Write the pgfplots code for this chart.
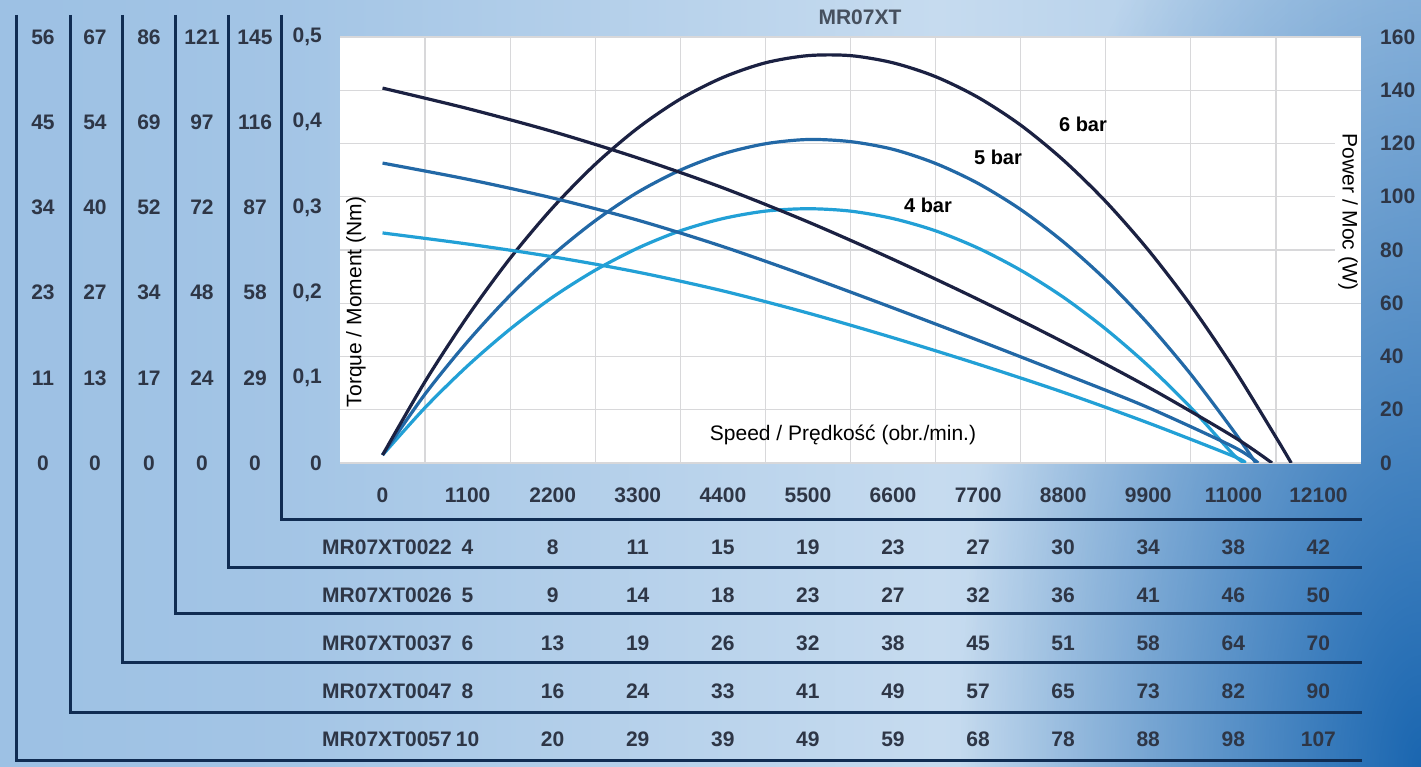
\documentclass[border=0pt]{standalone}
\usepackage{pgfplots}
\pgfplotsset{compat=1.18}
\usepackage{fontspec}
\setmainfont{Liberation Sans}
\usetikzlibrary{fadings}
\definecolor{navy}{HTML}{1B2142}
\definecolor{midblue}{HTML}{2268A6}
\definecolor{cyanb}{HTML}{22A0D6}
\definecolor{tabline}{HTML}{102C52}
\definecolor{tabtxt}{HTML}{2E3646}
\definecolor{titletxt}{HTML}{46505E}
\definecolor{gridc}{HTML}{D8D8DA}
\definecolor{bgA}{HTML}{8CB6DF}
\definecolor{bgB}{HTML}{C6DBEF}
\definecolor{bgD}{HTML}{1A66B0}
\pgfdeclarehorizontalshading{bgshade}{100bp}{color(0bp)=(bgA); color(35bp)=(bgA!60!bgB); color(58bp)=(bgB); color(80bp)=(bgA!70!bgB); color(100bp)=(bgA!40!bgB)}
\tikzfading[name=radfade, inner color=transparent!0, outer color=transparent!100]
\newcommand{\tlf}{\fontsize{21}{24}\selectfont\bfseries}
\newcommand{\lbf}{\fontsize{21}{24}\selectfont}
\pgfplotsset{base/.style={at={(340pt,304pt)}, anchor=south west, scale only axis,
  width=1021pt, height=426pt, xmin=-550, xmax=12650, scaled ticks=false,
  axis line style={draw=none}, major tick length=0pt, minor tick length=0pt,
  tick label style={font=\tlf, text=tabtxt}}}
\begin{document}
\begin{tikzpicture}
\begin{scope}[x=1pt,y=1pt]
\useasboundingbox (0,0) rectangle (1421,767);
\shade[shading=bgshade] (0,0) rectangle (1421,767);
\begin{scope}
\clip (0,0) rectangle (1421,767);
\fill[bgD, path fading=radfade, fit fading=true] (961,-1000) rectangle (1881,1000);
\end{scope}
\end{scope}

% power axis (background, grid, right ticks, x ticks)
\begin{axis}[base, ymin=0, ymax=160,
  axis background/.style={fill=white},
  xtick={0,1100,2200,3300,4400,5500,6600,7700,8800,9900,11000,12100},
  xticklabels={0,1100,2200,3300,4400,5500,6600,7700,8800,9900,11000,12100},
  minor xtick={550,1650,2750,3850,4950,6050,7150,8250,9350,10450,11550},
  xminorgrids=true, ymajorgrids=true,
  grid style={gridc, line width=1.3pt}, minor grid style={gridc, line width=1.3pt},
  ytick={0,20,40,60,80,100,120,140,160},
  yticklabels={0,20,40,60,80,100,120,140,160},
  yticklabel pos=right,
  xticklabel style={anchor=center, inner sep=0pt, yshift=-32pt},
  yticklabel style={anchor=west, inner sep=0pt, xshift=19pt}]
\addplot[cyanb, line width=3.2pt, smooth] coordinates {(0,3) (550,20.8) (1100,36.5) (1650,50.3) (2200,62.3) (2750,72.4) (3300,80.7) (3850,87.2) (4400,91.8) (4950,94.6) (5500,95.5) (6050,94.6) (6600,91.8) (7150,87.2) (7700,80.7) (8250,72.4) (8800,62.3) (9350,50.3) (9900,36.5) (10450,20.8) (11000,3.2) (11154,0)};
\addplot[midblue, line width=3.2pt, smooth] coordinates {(0,3) (550,25.9) (1100,45.6) (1650,63.0) (2200,78.1) (2750,91.0) (3300,101.7) (3850,110.0) (4400,116.1) (4950,119.9) (5500,121.5) (6050,120.7) (6600,117.8) (7150,112.5) (7700,105.0) (8250,95.2) (8800,83.1) (9350,68.8) (9900,52.2) (10450,33.3) (11000,12.1) (11290,0)};
\addplot[navy, line width=3.2pt, smooth] coordinates {(0,3) (550,30.6) (1100,55.1) (1650,76.9) (2200,95.9) (2750,112.2) (3300,125.8) (3850,136.7) (4400,144.8) (4950,150.3) (5500,153.0) (6050,153.0) (6600,150.3) (7150,145.1) (7700,137.3) (8250,126.9) (8800,113.8) (9350,98.2) (9900,80.0) (10450,59.2) (11000,35.7) (11550,9.7) (11748,0)};
\end{axis}

% torque axis
\begin{axis}[base, ymin=0, ymax=0.5,
  xtick=\empty,
  ytick={0,0.1,0.2,0.3,0.4,0.5},
  yticklabels={0,{0,1},{0,2},{0,3},{0,4},{0,5}},
  yticklabel style={anchor=east, inner sep=0pt, xshift=-18pt}]
\addplot[cyanb, line width=3.2pt, smooth] coordinates {(0,0.270) (1100,0.257) (2200,0.242) (3300,0.224) (4400,0.202) (5500,0.176) (6600,0.147) (7700,0.116) (8800,0.083) (9900,0.047) (11000,0.008) (11154,0)};
\addplot[midblue, line width=3.2pt, smooth] coordinates {(0,0.352) (1100,0.333) (2200,0.311) (3300,0.285) (4400,0.254) (5500,0.219) (6600,0.182) (7700,0.144) (8800,0.105) (9900,0.065) (11000,0.019) (11322,0)};
\addplot[navy, line width=3.2pt, smooth] coordinates {(0,0.440) (1100,0.416) (2200,0.389) (3300,0.358) (4400,0.323) (5500,0.283) (6600,0.239) (7700,0.192) (8800,0.142) (9900,0.089) (11000,0.031) (11500,0)};
\end{axis}

\begin{scope}[x=1pt,y=1pt, tnum/.style={font=\tlf, text=tabtxt, inner sep=0pt}]
% table lines
\draw[tabline, line width=3pt] (281,752) -- (281,247) -- (1362,247);
\draw[tabline, line width=3pt] (228,752) -- (228,199) -- (1362,199);
\draw[tabline, line width=3pt] (175,752) -- (175,153) -- (1362,153);
\draw[tabline, line width=3pt] (122,752) -- (122,104) -- (1362,104);
\draw[tabline, line width=3pt] (70,752) -- (70,54) -- (1362,54);
\draw[tabline, line width=3pt] (16,752) -- (16,6) -- (1362,6);
% column scales
\foreach \v [count=\i from 0] in {0,11,23,34,45,56} \node[tnum] at (43,304+85.2*\i) {\v};
\foreach \v [count=\i from 0] in {0,13,27,40,54,67} \node[tnum] at (95,304+85.2*\i) {\v};
\foreach \v [count=\i from 0] in {0,17,34,52,69,86} \node[tnum] at (149,304+85.2*\i) {\v};
\foreach \v [count=\i from 0] in {0,24,48,72,97,121} \node[tnum] at (202,304+85.2*\i) {\v};
\foreach \v [count=\i from 0] in {0,29,58,87,116,145} \node[tnum] at (255,304+85.2*\i) {\v};
% rows
\node[tnum, anchor=east] at (452,220) {MR07XT0022};
\foreach \v [count=\k] in {4,8,11,15,19,23,27,30,34,38,42} \node[tnum] at (382.5+85.08*\k,220) {\v};
\node[tnum, anchor=east] at (452,172) {MR07XT0026};
\foreach \v [count=\k] in {5,9,14,18,23,27,32,36,41,46,50} \node[tnum] at (382.5+85.08*\k,172) {\v};
\node[tnum, anchor=east] at (452,124) {MR07XT0037};
\foreach \v [count=\k] in {6,13,19,26,32,38,45,51,58,64,70} \node[tnum] at (382.5+85.08*\k,124) {\v};
\node[tnum, anchor=east] at (452,76) {MR07XT0047};
\foreach \v [count=\k] in {8,16,24,33,41,49,57,65,73,82,90} \node[tnum] at (382.5+85.08*\k,76) {\v};
\node[tnum, anchor=east] at (452,28) {MR07XT0057};
\foreach \v [count=\k] in {10,20,29,39,49,59,68,78,88,98,107} \node[tnum] at (382.5+85.08*\k,28) {\v};
% labels
\node[font=\lbf, rotate=90] at (356,465) {Torque / Moment (Nm)};
\node[font=\lbf, rotate=-90, fill=white, inner sep=3pt] at (1348,555) {Power / Moc (W)};
\node[font=\lbf] at (843,332) {Speed / Prędkość (obr./min.)};
\node[font=\tlf, text=titletxt] at (860,750) {MR07XT};
\node[font=\fontsize{20}{24}\selectfont\bfseries] at (1083,643) {6 bar};
\node[font=\fontsize{20}{24}\selectfont\bfseries] at (998,610) {5 bar};
\node[font=\fontsize{20}{24}\selectfont\bfseries] at (928,562) {4 bar};
\end{scope}
\end{tikzpicture}
\end{document}
